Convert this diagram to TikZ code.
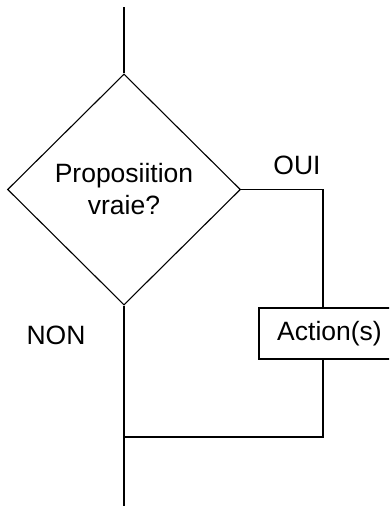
\documentclass[tikz,border=0pt]{standalone}
\usepackage{fontspec}
\setmainfont{Liberation Sans}
\usetikzlibrary{shapes.geometric}
\tikzset{
  conn/.style={draw=black, line width=1.1pt},
  lbl/.style={font=\fontsize{26.5}{32}\selectfont, inner sep=0pt},
  decision/.style={diamond, draw=black, line width=1.1pt, minimum width=233pt, minimum height=231pt, inner sep=0pt, align=center, font=\fontsize{26.5}{32}\selectfont},
  actionbox/.style={rectangle, draw=black, line width=1.1pt, minimum width=141pt, minimum height=51pt, inner sep=0pt, font=\fontsize{26.5}{32}\selectfont}
}
\begin{document}
\begin{tikzpicture}[x=1pt,y=1pt]
\useasboundingbox (0,0) rectangle (389,-506);
\clip (0,0) rectangle (389,-506);
\node[decision] (d) at (124,-189.5) {Proposiition\\vraie?};
\node[actionbox] (a) at (329.5,-333.5) {Action(s)};
\node[lbl] (oui) at (297,-165.5) {OUI};
\node[lbl] (non) at (56,-335.5) {NON};
\coordinate (top) at (124,-7);
\coordinate (oc) at (323,-189.5);
\coordinate (at) at (323,-308);
\coordinate (ab) at (323,-359);
\coordinate (jr) at (323,-437);
\coordinate (j) at (124,-437);
\coordinate (bot) at (124,-506);
\draw[conn] (top) -- (d.north);
\draw[conn] (d.east) -- (oc) -- (at);
\draw[conn] (ab) -- (jr) -- (j);
\draw[conn] (d.south) -- (bot);
\end{tikzpicture}
\end{document}
